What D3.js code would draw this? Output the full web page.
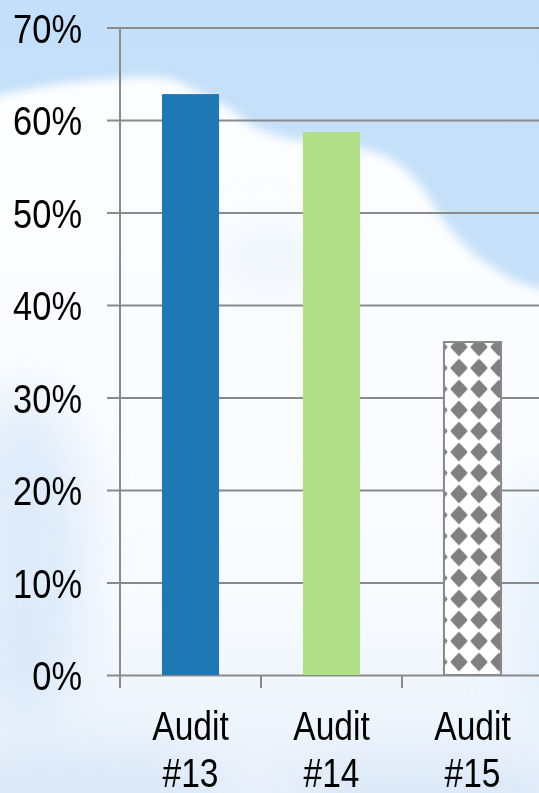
<!DOCTYPE html>
<html>
<head>
<meta charset="utf-8">
<script src="https://cdn.jsdelivr.net/npm/d3@7"></script>
<style>
  html, body { margin: 0; padding: 0; background: #fff; }
  svg { display: block; }
</style>
</head>
<body>
<svg id="chart"></svg>
<script>
// data
var categories = ["Audit #13", "Audit #14", "Audit #15"];
var values = [0.628, 0.587, 0.36];
var yTicks = [0, 0.1, 0.2, 0.3, 0.4, 0.5, 0.6, 0.7];

var svgWidth = 539, svgHeight = 793;

var svg = d3.select("#chart")
    .attr("width", svgWidth)
    .attr("height", svgHeight);

var defs = svg.append("defs");

// sky background
var sky = defs.append("linearGradient")
    .attr("id", "sky")
    .attr("x1", 0).attr("y1", 0).attr("x2", 0).attr("y2", 1);
sky.append("stop").attr("offset", "0%").attr("stop-color", "#c4dff9");
sky.append("stop").attr("offset", "40%").attr("stop-color", "#c8e1f9");
sky.append("stop").attr("offset", "100%").attr("stop-color", "#dde9f8");

// cloud body fades a little toward the bottom
var cloudFill = defs.append("linearGradient")
    .attr("id", "cloudFill")
    .attr("gradientUnits", "userSpaceOnUse")
    .attr("x1", 0).attr("y1", 0).attr("x2", 0).attr("y2", 793);
cloudFill.append("stop").attr("offset", "0%").attr("stop-color", "#fdfeff");
cloudFill.append("stop").attr("offset", "75%").attr("stop-color", "#f8fbff");
cloudFill.append("stop").attr("offset", "100%").attr("stop-color", "#e9f1fb");

defs.append("filter").attr("id", "blur")
    .attr("x", "-20%").attr("y", "-20%").attr("width", "140%").attr("height", "140%")
    .append("feGaussianBlur").attr("stdDeviation", 5);
defs.append("filter").attr("id", "blurBig")
    .attr("x", "-50%").attr("y", "-50%").attr("width", "200%").attr("height", "200%")
    .append("feGaussianBlur").attr("stdDeviation", 25);

// diamond fill for the third bar
var pat = defs.append("pattern")
    .attr("id", "diamonds")
    .attr("patternUnits", "userSpaceOnUse")
    .attr("x", 449).attr("y", 441.5)
    .attr("width", 20).attr("height", 21);
pat.append("rect").attr("width", 20).attr("height", 21).attr("fill", "#fff");
pat.append("path")
    .attr("d", "M10,2.5 L17.5,10.5 L10,18.5 L2.5,10.5 Z")
    .attr("fill", "#808080")
    .attr("stroke", "#808080")
    .attr("stroke-width", 2)
    .attr("stroke-linejoin", "round");

svg.append("rect")
    .attr("width", svgWidth)
    .attr("height", svgHeight)
    .attr("fill", "url(#sky)");

// clouds
svg.append("path")
    .attr("d", "M-20,100 C20,90 60,82 100,80 C130,78 150,74 175,80 C200,92 215,100 235,112 " +
        "C250,128 270,136 300,140 C330,142 350,146 375,152 C400,160 420,180 435,208 " +
        "C455,240 480,262 510,278 C525,286 540,290 560,292 L560,820 L-20,820 Z")
    .attr("fill", "url(#cloudFill)")
    .attr("filter", "url(#blur)");

// bluish haze on lower parts
var haze = svg.append("g").attr("filter", "url(#blurBig)").attr("fill", "#cfe2f6");
haze.append("ellipse").attr("cx", 25).attr("cy", 560).attr("rx", 60).attr("ry", 170).attr("opacity", 0.65);
haze.append("ellipse").attr("cx", 80).attr("cy", 790).attr("rx", 150).attr("ry", 45).attr("opacity", 0.55);
haze.append("ellipse").attr("cx", 430).attr("cy", 795).attr("rx", 150).attr("ry", 40).attr("opacity", 0.5);
haze.append("ellipse").attr("cx", 545).attr("cy", 600).attr("rx", 30).attr("ry", 120).attr("opacity", 0.45);
haze.append("ellipse").attr("cx", 270).attr("cy", 260).attr("rx", 50).attr("ry", 30).attr("opacity", 0.3);

var axisX = 120, plotTop = 27.5, plotBottom = 675;

var xScale = d3.scaleBand()
    .domain(categories)
    .range([axisX, axisX + 3 * 141])
    .padding(0);

var yScale = d3.scaleLinear()
    .domain([0, 0.7])
    .range([plotBottom, plotTop]);

var textScale = 0.84;

// gridlines + y labels
var yAxis = d3.axisLeft(yScale)
    .tickValues(yTicks)
    .tickSize(-(svgWidth - 107))
    .tickPadding(0)
    .tickFormat(d3.format(".0%"));

var gy = svg.append("g")
    .attr("transform", "translate(107,0)")
    .call(yAxis);
gy.select(".domain").remove();
gy.selectAll(".tick line")
    .attr("stroke", "#8a8a8a")
    .attr("stroke-width", 2);
gy.selectAll(".tick text")
    .attr("x", -25 / textScale)
    .attr("dy", "0.36em")
    .attr("transform", "scale(" + textScale + ",1)")
    .attr("fill", "#000")
    .style("font-family", "Arial, 'Liberation Sans', sans-serif")
    .style("font-size", "41px");

// bars
var bw = xScale.bandwidth() * 0.405;
var barColors = ["#1f77b4", "#b2df8a", "url(#diamonds)"];

svg.append("g").selectAll("rect")
    .data(values)
    .enter().append("rect")
    .attr("x", function(d, i) { return xScale(categories[i]) + xScale.bandwidth() / 2 - bw / 2; })
    .attr("y", function(d) { return yScale(d); })
    .attr("width", bw)
    .attr("height", function(d) { return yScale(0) - yScale(d); })
    .attr("fill", function(d, i) { return barColors[i]; })
    .attr("stroke", function(d, i) { return i == 2 ? "#8a8a8a" : "none"; })
    .attr("stroke-width", 2);

// vertical axis line
svg.append("line")
    .attr("x1", axisX).attr("x2", axisX)
    .attr("y1", plotTop).attr("y2", plotBottom + 13)
    .attr("stroke", "#8a8a8a")
    .attr("stroke-width", 2);

// category tick marks sit on band edges
var edges = categories.map(function(c) { return xScale(c); });
edges.push(xScale.range()[1]);
svg.append("g").selectAll("line")
    .data(edges)
    .enter().append("line")
    .attr("x1", function(d) { return d; })
    .attr("x2", function(d) { return d; })
    .attr("y1", plotBottom)
    .attr("y2", plotBottom + 13)
    .attr("stroke", "#8a8a8a")
    .attr("stroke-width", 2);

// x labels, two lines each
var xAxis = d3.axisBottom(xScale).tickSize(0).tickFormat("");
var gx = svg.append("g")
    .attr("transform", "translate(0," + plotBottom + ")")
    .call(xAxis);
gx.select(".domain").remove();
gx.selectAll(".tick").each(function(d) {
    var t = d3.select(this).append("text")
        .attr("transform", "scale(" + textScale + ",1)")
        .attr("text-anchor", "middle")
        .attr("fill", "#000")
        .style("font-family", "Arial, 'Liberation Sans', sans-serif")
        .style("font-size", "40px");
    var parts = d.split(" ");
    t.append("tspan").attr("x", 0).attr("y", 65).text(parts[0]);
    t.append("tspan").attr("x", 0).attr("y", 112).text(parts[1]);
});
</script>
</body>
</html>
